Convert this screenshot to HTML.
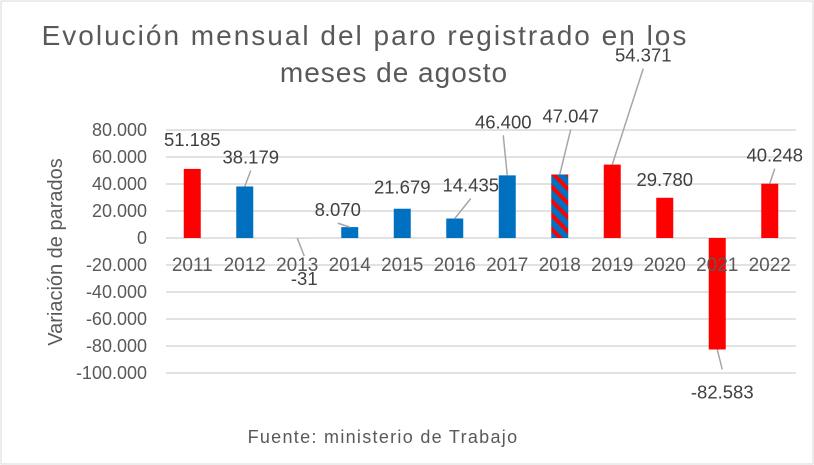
<!DOCTYPE html>
<html><head><meta charset="utf-8">
<style>
html,body{margin:0;padding:0;background:#fff;}
svg{display:block;font-family:"Liberation Sans",Arial,sans-serif;}
</style></head>
<body>
<svg id="chart" width="814" height="465" viewBox="0 0 814 465">
<defs>
<pattern id="hatch" patternUnits="userSpaceOnUse" width="10" height="10" patternTransform="rotate(45)">
<rect width="10" height="10" fill="#0070c0"/>
<rect width="10" height="4" fill="#ff0000"/>
</pattern>
</defs>
<rect x="1" y="1" width="812" height="463" fill="#fff" stroke="#d9d9d9" stroke-width="1"/>
<text x="365" y="45" font-size="28" letter-spacing="2" fill="#595959" text-anchor="middle">Evolución mensual del paro registrado en los</text>
<text x="394" y="82" font-size="28" letter-spacing="1" fill="#595959" text-anchor="middle">meses de agosto</text>
<text transform="translate(62,252) rotate(-90)" font-size="20" fill="#595959" text-anchor="middle">Variación de parados</text>
<text x="383" y="443" font-size="18" letter-spacing="1.3" fill="#595959" text-anchor="middle">Fuente: ministerio de Trabajo</text>
<g id="grid"></g><g id="bars"></g><g id="labels"></g>
</svg>
<script>
const categories = ["2011","2012","2013","2014","2015","2016","2017","2018","2019","2020","2021","2022"];
const values = [51185,38179,-31,8070,21679,14435,46400,47047,54371,29780,-82583,40248];
const valueLabels = ["51.185","38.179","-31","8.070","21.679","14.435","46.400","47.047","54.371","29.780","-82.583","40.248"];
const colors = ["red","blue","blue","blue","blue","blue","blue","hatch","red","red","red","red"];
const yTicks = [80000,60000,40000,20000,0,-20000,-40000,-60000,-80000,-100000];
const yTickLabels = ["80.000","60.000","40.000","20.000","0","-20.000","-40.000","-60.000","-80.000","-100.000"];
// label layout offsets (px, relative to bar end) and leader flags
const labelDx = [0,6,7,-12,0,16,-4,11,31,0,5,5];
const labelDy = [-30,-30,40,-18,-22,-34,-54,-59,-110,-19,42,-29];
const leader = [0,1,1,1,0,1,1,1,1,0,1,1];

const NS="http://www.w3.org/2000/svg";
const plotL=166, plotR=796, zeroY=238, pxPer=27/20000;
const bw=(plotR-plotL)/categories.length, barW=17;
const y=v=>zeroY - v*pxPer;
const xc=i=>plotL+bw*(i+0.5);
function mk(tag,attrs,parent){const e=document.createElementNS(NS,tag);for(const k in attrs)e.setAttribute(k,attrs[k]);parent.appendChild(e);return e;}
const grid=document.getElementById('grid'),bars=document.getElementById('bars'),labels=document.getElementById('labels');
yTicks.forEach((t,i)=>{
  const l=mk('line',{x1:plotL,x2:plotR,y1:y(t),y2:y(t),stroke:'#d9d9d9','stroke-width':1.5},grid);
  
  
  const tx=mk('text',{x:147,y:y(t)+6,'font-size':18,fill:'#595959','text-anchor':'end'},grid);
  tx.textContent=yTickLabels[i];
  
  
});
categories.forEach((c,i)=>{
  const tx=mk('text',{x:xc(i),y:271,'font-size':19,fill:'#595959','text-anchor':'middle'},labels);
  tx.textContent=c;
  
  
});
values.forEach((v,i)=>{
  const top=Math.min(y(v),zeroY), h=Math.abs(y(v)-zeroY);
  const fill=colors[i]==='red'?'#ff0000':colors[i]==='blue'?'#0070c0':'url(#hatch)';
  const r=mk('rect',{x:xc(i)-barW/2,y:top,width:barW,height:h,fill:fill},bars);
  
  
  const endY=y(v);
  const lx=xc(i)+labelDx[i], ly=endY+labelDy[i];
  if(leader[i]){
    const fromY = v>=0 ? ly+14 : ly-22;
    const ln=mk('line',{x1:lx,y1:fromY,x2:xc(i),y2:endY,stroke:'#a6a6a6','stroke-width':1.5},labels);
    
    
  }
  const tx=mk('text',{x:lx,y:ly+7,'font-size':18.5,fill:'#404040','text-anchor':'middle'},labels);
  tx.textContent=valueLabels[i];
  
  
});
</script>
</body></html>
